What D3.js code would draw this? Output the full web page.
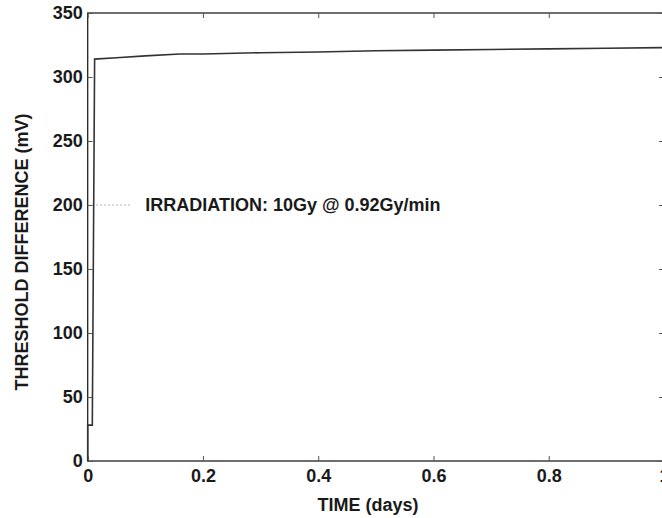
<!DOCTYPE html>
<html>
<head>
<meta charset="utf-8">
<script src="https://cdn.jsdelivr.net/npm/d3@7"></script>
<style>
body { margin: 0; background: #fff; }
svg text { font-family: "Liberation Sans", Arial, sans-serif; font-weight: bold; fill: #1a1a1a; }
</style>
</head>
<body>
<svg id="chart" width="662" height="518"></svg>
<script>
var timeDays = [0, 0, 0.008, 0.012, 0.05, 0.1, 0.16, 0.2, 0.3, 0.4, 0.5, 0.6, 0.7, 0.8, 0.9, 1.0];
var thresholdDiff = [0, 28, 28, 314, 315, 316.5, 318, 318, 319, 319.5, 320.5, 321, 321.5, 322, 322.5, 323];
var xTicks = [0, 0.2, 0.4, 0.6, 0.8, 1];
var yTicks = [0, 50, 100, 150, 200, 250, 300, 350];
var annotationText = "IRRADIATION: 10Gy @ 0.92Gy/min";
var annotationLevel = 200;

var margin = {left: 87.7, top: 13, right: 664, bottom: 461};
var svg = d3.select("#chart");

var x = d3.scaleLinear().domain([0, 1]).range([margin.left, margin.right]);
var y = d3.scaleLinear().domain([0, 350]).range([margin.bottom, margin.top]);

// frame
svg.append("rect")
    .attr("x", x(0)).attr("y", y(350))
    .attr("width", x(1) - x(0)).attr("height", y(0) - y(350))
    .attr("fill", "none").attr("stroke", "#222").attr("stroke-width", 1.3);

function styleAxis(g) {
    g.select(".domain").remove();
    g.selectAll(".tick line").attr("stroke", "#555").attr("stroke-width", 1);
    g.selectAll(".tick text").style("font-size", "18px");
}

svg.append("g")
    .attr("transform", "translate(0," + y(0) + ")")
    .call(d3.axisBottom(x).tickValues(xTicks).tickSize(-5).tickPadding(8)
        .tickFormat(function(d) { return d === 0 ? "0" : d3.format(".1f")(d).replace(/\.0$/, ""); }))
    .call(styleAxis);

svg.append("g")
    .attr("transform", "translate(0," + y(350) + ")")
    .call(d3.axisTop(x).tickValues(xTicks).tickSize(-5).tickFormat(""))
    .call(styleAxis);

svg.append("g")
    .attr("transform", "translate(" + x(0) + ",0)")
    .call(d3.axisLeft(y).tickValues(yTicks).tickSize(-5).tickPadding(5))
    .call(styleAxis);

svg.append("g")
    .attr("transform", "translate(" + x(1) + ",0)")
    .call(d3.axisRight(y).tickValues(yTicks).tickSize(-5).tickFormat(""))
    .call(styleAxis);

// annotation
svg.append("line")
    .attr("x1", x(0.008)).attr("x2", x(0.075))
    .attr("y1", y(annotationLevel)).attr("y2", y(annotationLevel))
    .attr("stroke", "#999").attr("stroke-width", 1.2)
    .attr("stroke-dasharray", "1.5,2.5");

svg.append("text")
    .attr("x", x(0.1)).attr("y", y(annotationLevel))
    .attr("dy", "0.35em")
    .style("font-size", "18px")
    .text(annotationText);

// curve
var line = d3.line()
    .x(function(d, i) { return x(timeDays[i]); })
    .y(function(d) { return y(d); });

svg.append("path")
    .datum(thresholdDiff)
    .attr("d", line)
    .attr("fill", "none")
    .attr("stroke", "#333")
    .attr("stroke-width", 1.6);

// axis titles
svg.append("text")
    .attr("x", 368).attr("y", 511)
    .attr("text-anchor", "middle")
    .style("font-size", "18px")
    .text("TIME (days)");

svg.append("text")
    .attr("transform", "translate(28,252) rotate(-90)")
    .attr("text-anchor", "middle")
    .style("font-size", "18px")
    .text("THRESHOLD DIFFERENCE (mV)");
</script>
</body>
</html>
